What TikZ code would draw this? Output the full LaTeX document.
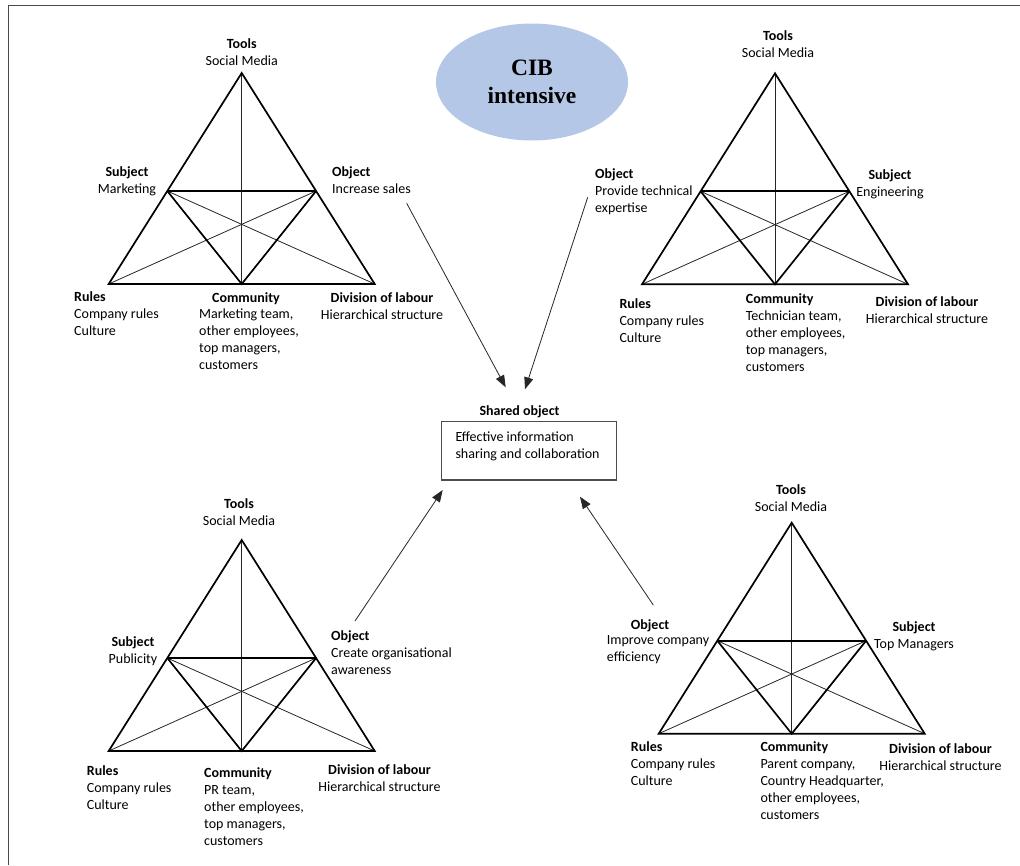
\documentclass[tikz,border=0pt]{standalone}
\usepackage{fontspec}
\setmainfont{Carlito}
\newfontfamily\cibserif{Liberation Serif}
\usetikzlibrary{arrows.meta,shapes.geometric}
\definecolor{cibblue}{HTML}{B4C7E7}
\definecolor{framegray}{HTML}{4A4A4A}
\newcommand\lblfont{\fontsize{14}{17}\selectfont}
\tikzset{
  thickln/.style={line width=1.7pt, black},
  thinln/.style={line width=0.8pt, black!85},
  lbl/.style={font=\lblfont, inner sep=0pt, align=left},
  lblc/.style={font=\lblfont, inner sep=0pt, align=center},
  conn/.style={line width=0.8pt, black!85, -{Triangle[length=12pt,width=9pt]}},
  acttri/.pic={
    \coordinate (-A) at (0,0);
    \coordinate (-L) at (-133,211);
    \coordinate (-R) at (133,211);
    \coordinate (-M) at (0,211);
    \coordinate (-P) at (-74.4,118);
    \coordinate (-Q) at (74.4,118);
    \draw[thinln] (-A) -- (-M);
    \draw[thinln] (-L) -- (-Q);
    \draw[thinln] (-R) -- (-P);
    \draw[thickln] (-A) -- (-L) -- (-R) -- cycle;
    \draw[thickln] (-P) -- (-Q);
    \draw[thickln] (-P) -- (-M) -- (-Q);
  }
}
\begin{document}
\begin{tikzpicture}[x=1pt,y=-1pt]
\useasboundingbox (0,0) rectangle (1020,865);
% frame
\draw[line width=1.6pt, framegray] (8.5,865) -- (8.5,5.5) -- (1020,5.5);

% CIB ellipse
\node[ellipse, fill=cibblue, minimum width=192pt, minimum height=117pt, inner sep=0pt,
      align=center, font=\cibserif\bfseries\fontsize{23.5}{28.5}\selectfont] (cib) at (532,82) {CIB\\intensive};

% ---------- top-left triangle ----------
\pic (tl) at (241.7,73) {acttri};
\node[lblc, anchor=north] (tl-tools) at (241.7,38) {\textbf{Tools}\\Social Media};
\node[lblc, anchor=north] (tl-subj) at (127,166) {\textbf{Subject}\\Marketing};
\node[lbl, anchor=north west] (tl-obj) at (332,166) {\textbf{Object}\\Increase sales};
\node[lbl, anchor=north west] (tl-rules) at (74,291) {\textbf{Rules}\\Company rules\\Culture};
\node[lblc, anchor=north] (tl-commh) at (246,292) {\textbf{Community}};
\node[lbl, anchor=north west] (tl-comm) at (199,309) {Marketing team,\\other employees,\\top managers,\\customers};
\node[lblc, anchor=north] (tl-div) at (382,292) {\textbf{Division of labour}\\Hierarchical structure};

% ---------- top-right triangle ----------
\pic (tr) at (775,73.3) {acttri};
\node[lblc, anchor=north] (tr-tools) at (778,30) {\textbf{Tools}\\Social Media};
\node[lbl, anchor=north west] (tr-obj) at (595,168) {\textbf{Object}\\Provide technical\\expertise};
\node[lblc, anchor=north] (tr-subj) at (890,169) {\textbf{Subject}\\Engineering};
\node[lbl, anchor=north west] (tr-rules) at (619.3,298) {\textbf{Rules}\\Company rules\\Culture};
\node[lbl, anchor=north west] (tr-comm) at (745.7,293) {\textbf{Community}\\Technician team,\\other employees,\\top managers,\\customers};
\node[lblc, anchor=north] (tr-div) at (927,296) {\textbf{Division of labour}\\Hierarchical structure};

% ---------- bottom-left triangle ----------
\pic (bl) at (241.7,540) {acttri};
\node[lblc, anchor=north] (bl-tools) at (239,498) {\textbf{Tools}\\Social Media};
\node[lblc, anchor=north] (bl-subj) at (133,636) {\textbf{Subject}\\Publicity};
\node[lbl, anchor=north west] (bl-obj) at (331,630) {\textbf{Object}\\Create organisational\\awareness};
\node[lbl, anchor=north west] (bl-rules) at (86.7,765) {\textbf{Rules}\\Company rules\\Culture};
\node[lbl, anchor=north west] (bl-comm) at (204,767) {\textbf{Community}\\PR team,\\other employees,\\top managers,\\customers};
\node[lblc, anchor=north] (bl-div) at (379.5,764.5) {\textbf{Division of labour}\\Hierarchical structure};

% ---------- bottom-right triangle ----------
\pic (br) at (791.7,522.7) {acttri};
\node[lblc, anchor=north] (br-tools) at (791,484) {\textbf{Tools}\\Social Media};
\node[lbl, anchor=north west] (br-objh) at (630.7,619) {\textbf{Object}};
\node[lbl, anchor=north west] (br-obj) at (606.7,635) {Improve company\\efficiency};
\node[lblc, anchor=north] (br-subj) at (914,621) {\textbf{Subject}\\Top Managers};
\node[lbl, anchor=north west] (br-rules) at (630.7,741.5) {\textbf{Rules}\\Company rules\\Culture};
\node[lbl, anchor=north west] (br-comm) at (760.3,741.5) {\textbf{Community}\\Parent company,\\Country Headquarter,\\other employees,\\customers};
\node[lblc, anchor=north] (br-div) at (940.5,743) {\textbf{Division of labour}\\Hierarchical structure};

% ---------- shared object ----------
\node[lblc, anchor=north] (sharedh) at (519.5,405) {\textbf{Shared object}};
\node[draw=black!70, line width=1.2pt, anchor=north west, minimum width=175.3pt, minimum height=58.6pt, inner sep=0pt] (sbox) at (440.7,420.7) {};
\node[lbl, anchor=north west] (stext) at (455.3,432) {Effective information\\sharing and collaboration};

% ---------- connectors ----------
\coordinate (a1s) at (406.7,203.3);
\coordinate (a1e) at (505.7,387.3);
\coordinate (a2s) at (587.7,197.3);
\coordinate (a2e) at (525,389.3);
\coordinate (a3s) at (355,621);
\coordinate (a3e) at (442.7,490);
\coordinate (a4s) at (653.3,605);
\coordinate (a4e) at (580,496.7);
\draw[conn] (a1s) -- (a1e);
\draw[conn] (a2s) -- (a2e);
\draw[conn] (a3s) -- (a3e);
\draw[conn] (a4s) -- (a4e);
\end{tikzpicture}
\end{document}
